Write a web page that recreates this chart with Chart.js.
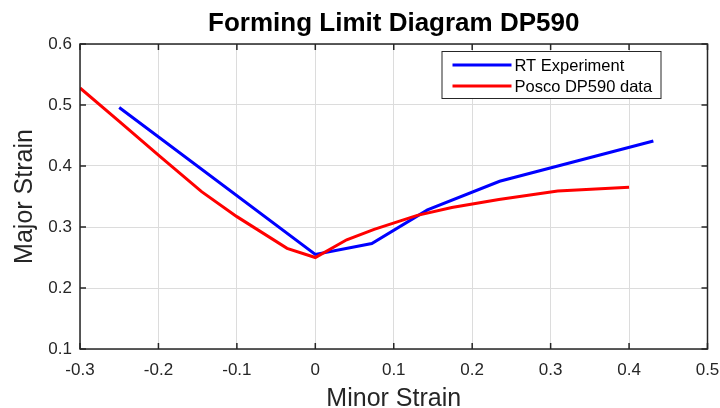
<!DOCTYPE html>
<html><head><meta charset="utf-8">
<script src="https://cdn.jsdelivr.net/npm/chart.js@4.4.0/dist/chart.umd.min.js"></script>
<style>html,body{margin:0;padding:0;background:#fff;} #wrap{width:720px;height:408px;}</style>
</head><body><div id="wrap"><canvas id="c" width="720" height="408"></canvas></div>
<script>
const chartTitle = 'Forming Limit Diagram DP590';
const xAxisTitle = 'Minor Strain';
const yAxisTitle = 'Major Strain';
const seriesNames = ['RT Experiment', 'Posco DP590 data'];
const seriesColors = ['#0000ff', '#ff0000'];
const rtMinor = [-0.25, 0, 0.072, 0.143, 0.235, 0.431];
const rtMajor = [0.496, 0.255, 0.273, 0.328, 0.375, 0.441];
const poscoMinor = [-0.3, -0.25, -0.2, -0.145, -0.1, -0.036, 0, 0.04, 0.075, 0.13, 0.174, 0.234, 0.309, 0.4];
const poscoMajor = [0.528, 0.473, 0.418, 0.358, 0.317, 0.265, 0.25, 0.279, 0.296, 0.319, 0.332, 0.345, 0.359, 0.365];
const xTicks = [-0.3, -0.2, -0.1, 0, 0.1, 0.2, 0.3, 0.4, 0.5];
const yTicks = [0.1, 0.2, 0.3, 0.4, 0.5, 0.6];

const FONT = '"Liberation Sans", Arial, Helvetica, sans-serif';
const AXIS = '#262626';
const fmt = v => (Math.abs(v) < 1e-9 ? '0' : (Math.round(v * 10) / 10).toFixed(1));
const pts = (xs, ys) => xs.map((x, i) => ({x: x, y: ys[i]}));

const framePlugin = {
  id: 'frame',
  afterDraw(chart) {
    const {ctx, chartArea: a, scales: {x, y}} = chart;
    ctx.save();
    ctx.strokeStyle = AXIS;
    ctx.lineWidth = 1.5;
    ctx.beginPath();
    const tl = 6;
    xTicks.forEach(v => {
      const px = x.getPixelForValue(v);
      ctx.moveTo(px, a.bottom); ctx.lineTo(px, a.bottom - tl);
      ctx.moveTo(px, a.top); ctx.lineTo(px, a.top + tl);
    });
    yTicks.forEach(v => {
      const py = y.getPixelForValue(v);
      ctx.moveTo(a.left, py); ctx.lineTo(a.left + tl, py);
      ctx.moveTo(a.right, py); ctx.lineTo(a.right - tl, py);
    });
    ctx.stroke();
    ctx.strokeRect(a.left, a.top, a.right - a.left, a.bottom - a.top);

    // title
    ctx.fillStyle = '#000';
    ctx.font = 'bold 26px ' + FONT;
    ctx.textAlign = 'center';
    ctx.textBaseline = 'alphabetic';
    ctx.fillText(chartTitle, (a.left + a.right) / 2, 31);

    // legend
    const bx = a.right - 266, by = a.top + 7, bw = 219, bh = 47;
    ctx.fillStyle = '#fff';
    ctx.fillRect(bx, by, bw, bh);
    ctx.lineWidth = 1;
    ctx.strokeStyle = AXIS;
    ctx.strokeRect(bx + 0.5, by + 0.5, bw, bh);
    ctx.font = '16.5px ' + FONT;
    ctx.textAlign = 'left';
    ctx.textBaseline = 'middle';
    seriesNames.forEach((n, i) => {
      const yy = by + 14 + i * 21;
      ctx.strokeStyle = seriesColors[i];
      ctx.lineWidth = 3;
      ctx.beginPath();
      ctx.moveTo(bx + 11, yy); ctx.lineTo(bx + 70, yy);
      ctx.stroke();
      ctx.fillStyle = '#000';
      ctx.fillText(n, bx + 73, yy + 1);
    });
    ctx.restore();
  }
};

new Chart(document.getElementById('c'), {
  type: 'scatter',
  data: {
    datasets: [
      {label: seriesNames[1], data: pts(poscoMinor, poscoMajor), showLine: true, borderColor: seriesColors[1], backgroundColor: seriesColors[1], borderWidth: 3, pointRadius: 0, tension: 0},
      {label: seriesNames[0], data: pts(rtMinor, rtMajor), showLine: true, borderColor: seriesColors[0], backgroundColor: seriesColors[0], borderWidth: 3, pointRadius: 0, tension: 0}
    ]
  },
  options: {
    responsive: false,
    animation: false,
    devicePixelRatio: 1,
    layout: {padding: {left: 0, right: 0, top: 44, bottom: 0}},
    plugins: {legend: {display: false}, title: {display: false}, tooltip: {enabled: false}},
    scales: {
      x: {
        type: 'linear', position: 'bottom', min: -0.3, max: 0.5,
        afterBuildTicks: s => { s.ticks = xTicks.map(v => ({value: v})); },
        afterFit: s => { s.height = 59; s.paddingLeft = 0; s.paddingRight = 12.5; },
        ticks: {callback: v => fmt(v), font: {family: FONT, size: 17}, color: AXIS, padding: 11, maxRotation: 0, autoSkip: false},
        grid: {color: '#dcdcdc', lineWidth: 1, drawTicks: false},
        border: {display: false},
        title: {display: true, text: xAxisTitle, color: AXIS, font: {family: FONT, size: 25, lineHeight: 0.75}, padding: {top: 0, bottom: 0}}
      },
      y: {
        type: 'linear', position: 'left', min: 0.1, max: 0.6,
        afterBuildTicks: s => { s.ticks = yTicks.map(v => ({value: v})); },
        afterFit: s => { s.width = 80; s.paddingTop = 0; s.paddingBottom = 0; },
        ticks: {callback: v => fmt(v), font: {family: FONT, size: 17}, color: AXIS, padding: 8, autoSkip: false},
        grid: {color: '#dcdcdc', lineWidth: 1, drawTicks: false},
        border: {display: false},
        title: {display: true, text: yAxisTitle, color: AXIS, font: {family: FONT, size: 25, lineHeight: 1.2}, padding: {top: 10, bottom: 0}}
      }
    }
  },
  plugins: [framePlugin]
});
</script>
</body></html>
